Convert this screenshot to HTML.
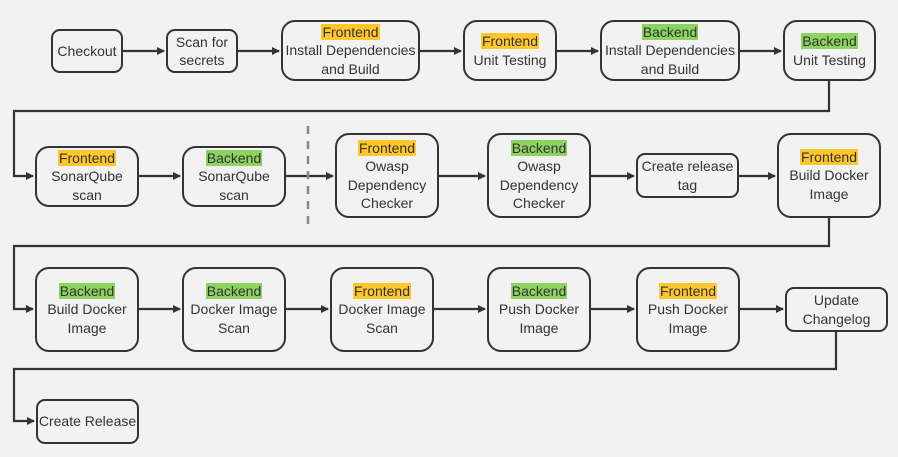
<!DOCTYPE html>
<html><head><meta charset="utf-8"><style>
html,body{margin:0;padding:0;background:#f2f2f2;}
#c{position:relative;width:898px;height:457px;overflow:hidden;background:#f2f2f2;font-family:"Liberation Sans","DejaVu Sans",sans-serif;font-size:14px;color:#333;}
.b{position:absolute;box-sizing:border-box;border:2px solid #333;border-radius:9px;display:flex;align-items:center;justify-content:center;text-align:center;line-height:18.5px;background:#f2f2f2;}
.r{border-radius:14px;}
.f{background:#ffc72c;padding:0 1px;}
.g{background:#8cd35f;padding:0 1px;}
svg{position:absolute;left:0;top:0;}
</style></head><body><div id="c">
<svg width="898" height="457">
<defs><marker id="a" markerWidth="8" markerHeight="8" refX="7" refY="4" orient="auto" markerUnits="userSpaceOnUse"><path d="M0,0 L8,4 L0,8 Z" fill="#333"/></marker></defs>
<g stroke="#333" stroke-width="2.2" fill="none">
<line x1="123" y1="51" x2="164" y2="51" marker-end="url(#a)"/>
<line x1="238" y1="51" x2="279" y2="51" marker-end="url(#a)"/>
<line x1="420" y1="51" x2="461" y2="51" marker-end="url(#a)"/>
<line x1="557" y1="51" x2="598" y2="51" marker-end="url(#a)"/>
<line x1="740" y1="51" x2="781" y2="51" marker-end="url(#a)"/>
<polyline points="829,81 829,111 14,111 14,176 33,176" marker-end="url(#a)"/>
<line x1="139" y1="176" x2="180" y2="176" marker-end="url(#a)"/>
<line x1="286" y1="176" x2="333" y2="176" marker-end="url(#a)"/>
<line x1="439" y1="176" x2="485" y2="176" marker-end="url(#a)"/>
<line x1="591" y1="176" x2="634" y2="176" marker-end="url(#a)"/>
<line x1="739" y1="176" x2="775" y2="176" marker-end="url(#a)"/>
<polyline points="829,218 829,246 14,246 14,309 33,309" marker-end="url(#a)"/>
<line x1="139" y1="309" x2="180" y2="309" marker-end="url(#a)"/>
<line x1="286" y1="309" x2="328" y2="309" marker-end="url(#a)"/>
<line x1="434" y1="309" x2="485" y2="309" marker-end="url(#a)"/>
<line x1="591" y1="309" x2="634" y2="309" marker-end="url(#a)"/>
<line x1="740" y1="309" x2="783" y2="309" marker-end="url(#a)"/>
<polyline points="836,332 836,369 14,369 14,421 34,421" marker-end="url(#a)"/>
</g>
<line x1="308" y1="126" x2="308" y2="230" stroke="#888" stroke-width="2.5" stroke-dasharray="8,7"/>
</svg>
<div class="b" style="left:51px;top:29px;width:72px;height:44px">Checkout</div>
<div class="b" style="left:166px;top:29px;width:72px;height:44px">Scan for<br>secrets</div>
<div class="b r" style="left:281px;top:20px;width:139px;height:61px"><div><span class="f">Frontend</span><br>Install Dependencies<br>and Build</div></div>
<div class="b r" style="left:463px;top:20px;width:94px;height:61px"><div><span class="f">Frontend</span><br>Unit Testing</div></div>
<div class="b r" style="left:600px;top:20px;width:140px;height:61px"><div><span class="g">Backend</span><br>Install Dependencies<br>and Build</div></div>
<div class="b r" style="left:783px;top:20px;width:93px;height:61px"><div><span class="g">Backend</span><br>Unit Testing</div></div>
<div class="b r" style="left:35px;top:146px;width:104px;height:61px"><div><span class="f">Frontend</span><br>SonarQube<br>scan</div></div>
<div class="b r" style="left:182px;top:146px;width:104px;height:61px"><div><span class="g">Backend</span><br>SonarQube<br>scan</div></div>
<div class="b r" style="left:335px;top:133px;width:104px;height:85px"><div><span class="f">Frontend</span><br>Owasp<br>Dependency<br>Checker</div></div>
<div class="b r" style="left:487px;top:133px;width:104px;height:85px"><div><span class="g">Backend</span><br>Owasp<br>Dependency<br>Checker</div></div>
<div class="b" style="left:636px;top:153px;width:103px;height:45px">Create release<br>tag</div>
<div class="b r" style="left:777px;top:133px;width:104px;height:85px"><div><span class="f">Frontend</span><br>Build Docker<br>Image</div></div>
<div class="b r" style="left:35px;top:267px;width:104px;height:85px"><div><span class="g">Backend</span><br>Build Docker<br>Image</div></div>
<div class="b r" style="left:182px;top:267px;width:104px;height:85px"><div><span class="g">Backend</span><br>Docker Image<br>Scan</div></div>
<div class="b r" style="left:330px;top:267px;width:104px;height:85px"><div><span class="f">Frontend</span><br>Docker Image<br>Scan</div></div>
<div class="b r" style="left:487px;top:267px;width:104px;height:85px"><div><span class="g">Backend</span><br>Push Docker<br>Image</div></div>
<div class="b r" style="left:636px;top:267px;width:104px;height:85px"><div><span class="f">Frontend</span><br>Push Docker<br>Image</div></div>
<div class="b" style="left:785px;top:287px;width:103px;height:45px">Update<br>Changelog</div>
<div class="b" style="left:36px;top:399px;width:103px;height:45px">Create Release</div>
</div></body></html>
